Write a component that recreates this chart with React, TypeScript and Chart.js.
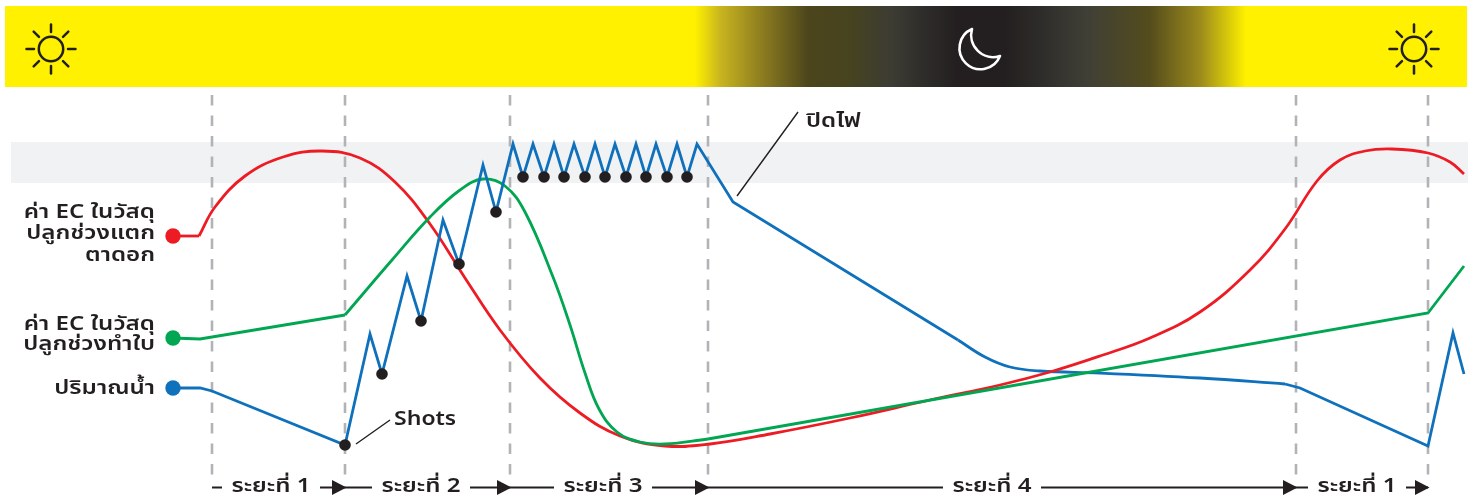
import React, { useEffect, useRef } from "react";
import { Chart, registerables } from "chart.js";

Chart.register(...registerables);

// ---- series (horizontal = time along the day, vertical = level, top = high)
const redStubX = [173, 199];
const redStubY = [236, 236];
const redCurveX = [199, 215, 245, 283, 322, 360, 395, 430, 465, 500, 540, 580, 620, 665, 710, 770, 850, 930, 1000, 1050, 1100, 1150, 1200, 1250, 1285, 1317, 1340, 1365, 1392, 1428, 1450, 1464];
const redCurveY = [236, 207, 176, 157, 151, 158, 182, 224, 278, 330, 378, 413, 436, 446, 444, 434, 418, 400, 385, 372, 356, 338, 312, 270, 229, 181, 160, 151, 149, 153, 162, 174];

const greenLeadX = [173, 200, 345];
const greenLeadY = [338, 339, 315];
const greenCurveX = [345, 392, 430, 460, 483, 505, 525, 553, 570, 585, 599, 617, 640, 665, 708];
const greenCurveY = [315, 260, 217, 190, 179, 186, 212, 277, 325, 373, 409, 432, 442, 444, 439];
const greenTailX = [708, 1428, 1464];
const greenTailY = [439, 313, 266];

const bluePulseX = [173, 200, 212, 345, 370, 382, 407, 421, 443, 459, 483, 496, 513, 523, 533, 544, 554, 564, 574, 585, 595, 605, 615, 626, 636, 646, 656, 667, 677, 687, 697, 733, 958];
const bluePulseY = [388, 388, 391, 445, 334, 374, 276, 321, 220, 264, 165, 212, 144, 177, 144, 177, 144, 177, 144, 177, 144, 177, 144, 177, 144, 177, 144, 177, 144, 177, 144, 202, 340];
const blueNightX = [958, 985, 1010, 1040, 1100, 1200, 1285];
const blueNightY = [340, 357, 367, 371, 373, 378, 384];
const blueMorningX = [1285, 1300, 1428, 1453, 1464];
const blueMorningY = [384, 388, 446, 333, 374];

const shotX = [345, 382, 421, 459, 496, 523, 544, 564, 585, 605, 626, 646, 667, 687];
const shotY = [445, 374, 321, 264, 212, 177, 177, 177, 177, 177, 177, 177, 177, 177];

const legendX = [173, 173, 173];
const legendY = [236, 338, 388];
const legendColors = ["#ed1c24", "#00a651", "#0f71bc"];

const phaseBoundaries = [212, 345, 510, 708, 1296, 1428];
const phaseLabels = ["ระยะที่ 1", "ระยะที่ 2", "ระยะที่ 3", "ระยะที่ 4", "ระยะที่ 1"];
const phaseTextCenters = [271, 421, 603, 992, 1357];

const ecFlowerLabel = ["ค่า EC ในวัสดุ", "ปลูกช่วงแตก", "ตาดอก"];
const ecLeafLabel = ["ค่า EC ในวัสดุ", "ปลูกช่วงทำใบ"];
const waterLabel = "ปริมาณน้ำ";
const shotsLabel = "Shots";
const lightsOffLabel = "ปิดไฟ";

const RED = "#ed1c24";
const GREEN = "#00a651";
const BLUE = "#0f71bc";
const INK = "#231f20";
const DASH = "#b1b3b6";
const FONT = '600 19px "Noto Sans Thai", "Noto Sans", Inter, "Liberation Sans", sans-serif';
const TEXT_STRETCH = 1.27;

const pts = (xs: number[], ys: number[]) => xs.map((x, i) => ({ x, y: ys[i] }));

function drawSun(ctx: CanvasRenderingContext2D, cx: number, cy: number) {
  ctx.save();
  ctx.strokeStyle = INK;
  ctx.lineWidth = 2.5;
  ctx.lineCap = "round";
  ctx.beginPath();
  ctx.arc(cx, cy, 12.2, 0, Math.PI * 2);
  ctx.stroke();
  for (let i = 0; i < 8; i++) {
    const a = (i * Math.PI) / 4;
    ctx.beginPath();
    ctx.moveTo(cx + Math.cos(a) * 17, cy + Math.sin(a) * 17);
    ctx.lineTo(cx + Math.cos(a) * 24.5, cy + Math.sin(a) * 24.5);
    ctx.stroke();
  }
  ctx.restore();
}

function wideText(ctx: CanvasRenderingContext2D, t: string, x: number, y: number, stretch = TEXT_STRETCH) {
  ctx.save();
  ctx.translate(x, y);
  ctx.scale(stretch, 1);
  ctx.fillText(t, 0, 0);
  ctx.restore();
}

const decorPlugin = {
  id: "decor",
  beforeDatasetsDraw(chart: any) {
    const { ctx, scales } = chart;
    const X = (v: number) => scales.x.getPixelForValue(v);
    const Y = (v: number) => scales.y.getPixelForValue(v);
    ctx.save();
    // target band
    ctx.fillStyle = "#f1f2f4";
    ctx.fillRect(X(11), Y(142), X(1468) - X(11), Y(183) - Y(142));
    // day / night strip
    const x0 = X(5);
    const x1 = X(1467);
    const g = ctx.createLinearGradient(x0, 0, x1, 0);
    const stops: [number, string][] = [
      [695, "#fff100"],
      [720, "#c9b51f"],
      [760, "#8f7f1f"],
      [808, "#4c451c"],
      [850, "#46431f"],
      [891, "#3c3c33"],
      [925, "#2e2c2a"],
      [957, "#231f20"],
      [1005, "#231f20"],
      [1040, "#2e2c2a"],
      [1087, "#3f3f36"],
      [1150, "#544c1c"],
      [1200, "#9b8a1c"],
      [1246, "#fff100"],
    ];
    stops.forEach(([p, c]) => g.addColorStop((p - 5) / 1462, c));
    ctx.fillStyle = g;
    ctx.fillRect(x0, Y(6), x1 - x0, Y(87) - Y(6));
    drawSun(ctx, X(51), Y(49));
    drawSun(ctx, X(1414), Y(49));
    // moon
    ctx.strokeStyle = "#ffffff";
    ctx.lineWidth = 2.6;
    ctx.lineJoin = "round";
    ctx.stroke(new Path2D("M972 29 A21 21 0 1 0 1000 56 A22 22 0 0 1 972 29 Z"));
    ctx.restore();
  },
  afterDatasetsDraw(chart: any) {
    const { ctx, scales } = chart;
    const X = (v: number) => scales.x.getPixelForValue(v);
    const Y = (v: number) => scales.y.getPixelForValue(v);
    ctx.save();
    ctx.fillStyle = INK;
    ctx.strokeStyle = INK;
    ctx.font = FONT;
    ctx.textBaseline = "middle";

    // series names
    ctx.textAlign = "right";
    ecFlowerLabel.forEach((t, i) => wideText(ctx, t, X(155), Y(214 + i * 21.5)));
    ecLeafLabel.forEach((t, i) => wideText(ctx, t, X(155), Y(326 + i * 20.5)));
    wideText(ctx, waterLabel, X(155), Y(390));

    // callouts
    ctx.textAlign = "left";
    wideText(ctx, shotsLabel, X(394), Y(421), 1.21);
    wideText(ctx, lightsOffLabel, X(806), Y(123));
    ctx.lineWidth = 1.4;
    ctx.beginPath();
    ctx.moveTo(X(356), Y(444));
    ctx.lineTo(X(390), Y(420));
    ctx.moveTo(X(737), Y(196));
    ctx.lineTo(X(798), Y(112));
    ctx.stroke();

    // phase arrows
    ctx.textAlign = "center";
    const yA = Y(487.5);
    phaseLabels.forEach((t, i) => {
      const from = phaseBoundaries[i];
      const to = phaseBoundaries[i + 1];
      const c = phaseTextCenters[i];
      const half = 49;
      wideText(ctx, t, X(c), yA + 1);
      ctx.lineWidth = 2;
      ctx.beginPath();
      ctx.moveTo(X(from), yA);
      ctx.lineTo(X(c - half), yA);
      ctx.moveTo(X(c + half), yA);
      ctx.lineTo(X(to), yA);
      ctx.stroke();
      ctx.beginPath();
      ctx.moveTo(X(to) + 1.5, yA);
      ctx.lineTo(X(to) - 13, yA - 7.5);
      ctx.lineTo(X(to) - 13, yA + 7.5);
      ctx.closePath();
      ctx.fill();
    });
    ctx.restore();
  },
};

const lineDs = (xs: number[], ys: number[], color: string, order: number, smooth = false) => ({
  data: pts(xs, ys),
  borderColor: color,
  backgroundColor: color,
  borderWidth: 2.8,
  pointRadius: 0,
  showLine: true,
  fill: false,
  order,
  tension: smooth ? 0.4 : 0,
  borderJoinStyle: "miter" as const,
});

export default function App() {
  const ref = useRef<HTMLCanvasElement | null>(null);

  useEffect(() => {
    document.body.style.margin = "0";
    const canvas = ref.current!;
    const guides = phaseBoundaries.map((x) => ({
      data: pts([x, x], [95, 478]),
      borderColor: DASH,
      borderWidth: 2.6,
      borderDash: [10.5, 10],
      pointRadius: 0,
      showLine: true,
      order: 20,
    }));
    const chart = new Chart(canvas, {
      type: "line",
      data: {
        datasets: [
          ...guides,
          lineDs(blueNightX, blueNightY, BLUE, 12, true),
          lineDs(blueMorningX, blueMorningY, BLUE, 12),
          lineDs(redStubX, redStubY, RED, 11),
          lineDs(redCurveX, redCurveY, RED, 11, true),
          lineDs(greenLeadX, greenLeadY, GREEN, 10),
          lineDs(greenCurveX, greenCurveY, GREEN, 10, true),
          lineDs(greenTailX, greenTailY, GREEN, 10),
          lineDs(bluePulseX, bluePulseY, BLUE, 9),
          {
            data: pts(shotX, shotY),
            showLine: false,
            pointRadius: 5.8,
            pointBackgroundColor: INK,
            pointBorderWidth: 0,
            order: 2,
          },
          {
            data: pts(legendX, legendY),
            showLine: false,
            pointRadius: 7.7,
            pointBackgroundColor: legendColors,
            pointBorderWidth: 0,
            order: 1,
          },
        ] as any,
      },
      options: {
        responsive: false,
        animation: false,
        devicePixelRatio: 1,
        parsing: false as any,
        normalized: true,
        layout: { padding: 0, autoPadding: false },
        plugins: { legend: { display: false }, tooltip: { enabled: false } },
        events: [],
        scales: {
          x: { type: "linear", min: 0, max: 1475, display: false },
          y: { type: "linear", min: 0, max: 497, reverse: true, display: false },
        },
      } as any,
      plugins: [decorPlugin],
    });
    return () => chart.destroy();
  }, []);

  return <canvas ref={ref} width={1475} height={497} style={{ display: "block" }} />;
}
